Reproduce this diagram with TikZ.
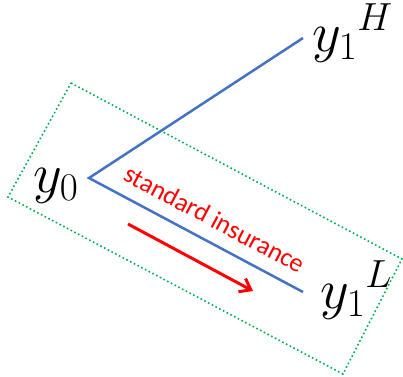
\RequirePackage{fix-cm}
\documentclass[tikz,border=0pt]{standalone}
\usepackage{fontspec}
\setmainfont{Carlito}
\usetikzlibrary{arrows.meta}
\definecolor{pblue}{RGB}{68,114,196}
\definecolor{pgreen}{RGB}{0,176,80}
\tikzset{
  branch/.style={draw=pblue, line width=2.5pt},
  lbl/.style={inner sep=0pt, font=\fontsize{56}{60}\selectfont},
  box/.style={draw=pgreen, line width=1.6pt, dash pattern=on 1.6pt off 2.6pt},
  redarrow/.style={draw=red, line width=3pt, -{Straight Barb[length=10pt,width=15pt]}},
  note/.style={inner sep=0pt, text=red, font=\fontsize{26}{29}\selectfont, rotate=-28}
}
\begin{document}
\begin{tikzpicture}[x=1pt,y=-1pt]
\useasboundingbox (0,0) rectangle (403,376);
% dotted box
\coordinate (bt) at (71,83);
\coordinate (br) at (402,259);
\coordinate (bb) at (343,374);
\coordinate (bl) at (8,197);
\draw[box] (bt) -- (br) -- (bb) -- (bl) -- cycle;
% branches
\coordinate (o) at (89,178);
\coordinate (h) at (303,38);
\coordinate (l) at (303,292);
\draw[branch] (h) -- (o) -- (l);
% labels
\node[lbl, anchor=base west] (y0) at (33,192) {$y_0$};
\node[lbl, anchor=base west] (yH) at (312,51) {${y_1}^H$};
\node[lbl, anchor=base west] (yL) at (320,308) {${y_1}^L$};
% arrow + text
\coordinate (as) at (128,224);
\coordinate (ae) at (253,291);
\draw[redarrow] (as) -- (ae);
\node[note] (txt) at (215,219) {standard insurance};
\end{tikzpicture}
\end{document}
